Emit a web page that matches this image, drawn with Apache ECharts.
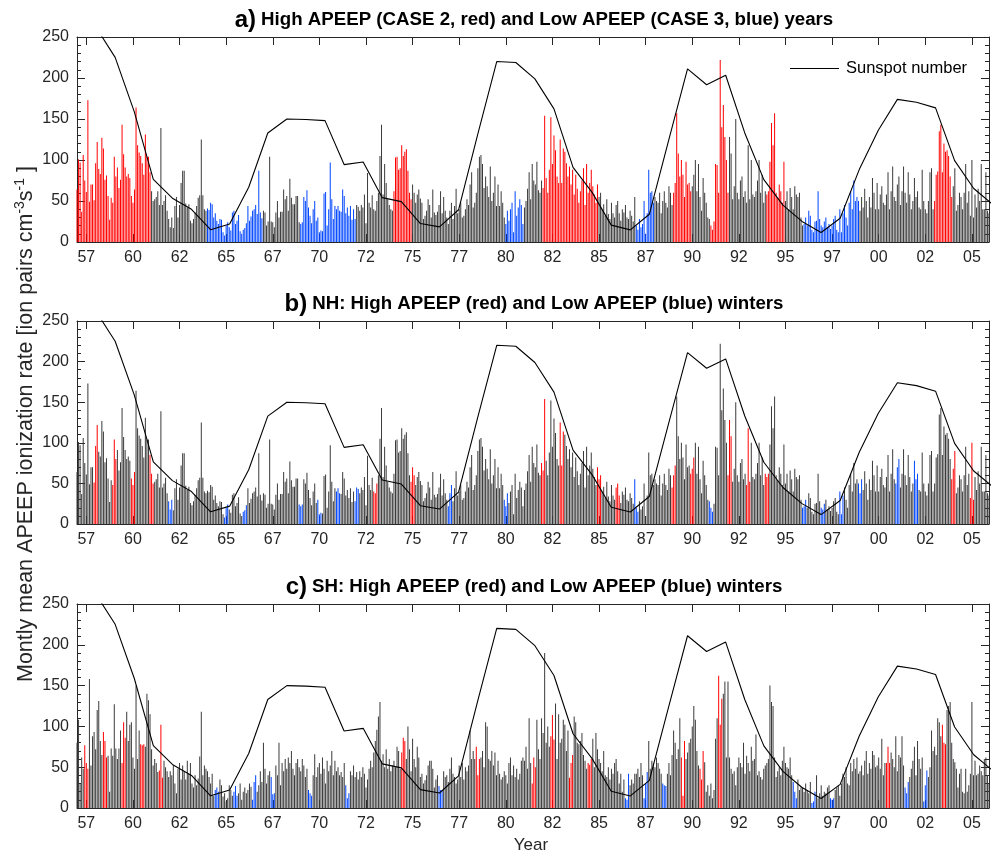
<!DOCTYPE html>
<html>
<head>
<meta charset="utf-8">
<script src="https://cdn.jsdelivr.net/npm/echarts@6/dist/echarts.min.js"></script>
<style>
  html, body { margin: 0; padding: 0; background: #fff; }
  #chart { width: 997px; height: 856px; }
</style>
</head>
<body>
<div id="chart"></div>
<script>
// ---------------------------------------------------------------------------
// Data
// ---------------------------------------------------------------------------

// Yearly sunspot number, 1957-2005
const sunspotYears = [1957, 1958, 1959, 1960, 1961, 1962, 1963, 1964, 1965, 1966,
  1967, 1968, 1969, 1970, 1971, 1972, 1973, 1974, 1975, 1976, 1977, 1978, 1979,
  1980, 1981, 1982, 1983, 1984, 1985, 1986, 1987, 1988, 1989, 1990, 1991, 1992,
  1993, 1994, 1995, 1996, 1997, 1998, 1999, 2000, 2001, 2002, 2003, 2004, 2005];
const sunspotNumber = [269.3, 261.7, 225.1, 159.0, 76.4, 53.4, 39.9, 15.0, 22.0, 66.8,
  132.9, 150.0, 149.4, 148.0, 94.4, 97.6, 54.1, 49.2, 22.5, 18.4, 39.3, 131.0, 220.1,
  218.9, 198.9, 162.4, 91.0, 60.5, 20.6, 14.8, 33.9, 123.0, 211.1, 191.8, 203.3, 133.0,
  76.1, 44.9, 25.1, 11.6, 28.9, 88.3, 136.3, 173.9, 170.4, 163.6, 99.3, 65.3, 45.8];

// Monthly mean APEEP ionization rate (Jan..Dec), one row per year from 1957
const rateNH = [
  [64, 101, 97, 37, 106, 75, 61, 173, 49, 70, 70, 51],      // 1957
  [96, 122, 89, 83, 127, 114, 76, 81, 56, 27, 54, 48],      // 1958
  [104, 80, 91, 66, 76, 143, 107, 91, 80, 83, 78, 56],      // 1959
  [48, 64, 164, 118, 109, 105, 96, 82, 131, 104, 104, 85],  // 1960
  [62, 50, 52, 55, 62, 45, 139, 45, 50, 57, 38, 28],        // 1961
  [18, 30, 17, 44, 55, 30, 45, 72, 87, 87, 47, 42],         // 1962
  [46, 26, 23, 28, 36, 44, 54, 57, 125, 57, 40, 38],        // 1963
  [41, 39, 48, 46, 30, 35, 26, 22, 28, 27, 12, 8],          // 1964
  [20, 24, 18, 14, 36, 38, 22, 26, 33, 13, 10, 15],         // 1965
  [17, 23, 44, 26, 31, 38, 40, 45, 34, 87, 36, 29],         // 1966
  [38, 36, 20, 25, 104, 25, 24, 18, 36, 50, 30, 37],        // 1967
  [37, 64, 52, 56, 38, 77, 54, 46, 46, 56, 56, 24],         // 1968
  [22, 24, 55, 50, 63, 42, 32, 23, 40, 50, 26, 30],         // 1969
  [12, 14, 13, 59, 61, 20, 40, 97, 52, 28, 44, 40],         // 1970
  [44, 38, 37, 64, 56, 35, 42, 32, 44, 27, 40, 28],         // 1971
  [45, 43, 38, 45, 42, 58, 23, 84, 48, 42, 57, 40],         // 1972
  [38, 50, 60, 105, 143, 58, 95, 72, 52, 45, 40, 38],       // 1973
  [62, 103, 104, 88, 90, 118, 105, 110, 113, 87, 60, 52],   // 1974
  [70, 60, 48, 58, 64, 53, 48, 28, 32, 38, 52, 45],         // 1975
  [30, 64, 36, 33, 37, 45, 62, 35, 55, 38, 30, 22],         // 1976
  [38, 48, 28, 44, 65, 35, 40, 48, 30, 32, 40, 52],         // 1977
  [45, 70, 85, 42, 48, 60, 90, 104, 106, 95, 66, 80],       // 1978
  [68, 55, 92, 50, 60, 80, 44, 70, 44, 62, 48, 30],         // 1979
  [22, 38, 26, 40, 48, 12, 62, 32, 42, 52, 45, 22],         // 1980
  [42, 50, 65, 85, 52, 95, 75, 70, 98, 63, 60, 75],         // 1981
  [66, 154, 78, 60, 88, 152, 95, 130, 112, 80, 72, 125],    // 1982
  [72, 114, 110, 96, 80, 92, 70, 88, 58, 82, 65, 48],       // 1983
  [62, 75, 90, 45, 95, 60, 72, 88, 68, 58, 48, 70],         // 1984
  [55, 60, 40, 46, 32, 52, 34, 28, 48, 35, 30, 45],         // 1985
  [50, 35, 26, 40, 36, 45, 30, 28, 38, 32, 25, 55],         // 1986
  [20, 15, 28, 18, 22, 50, 10, 35, 88, 60, 62, 48],         // 1987
  [55, 50, 48, 60, 35, 50, 62, 48, 42, 68, 60, 45],         // 1988
  [60, 72, 157, 108, 80, 100, 82, 55, 98, 70, 72, 62],      // 1989
  [68, 82, 100, 62, 95, 55, 38, 78, 60, 48, 30, 28],        // 1990
  [20, 15, 25, 95, 94, 60, 222, 140, 167, 128, 100, 60],    // 1991
  [128, 108, 52, 68, 150, 60, 52, 75, 80, 55, 62, 48],      // 1992
  [118, 52, 100, 58, 55, 62, 75, 100, 60, 82, 48, 62],      // 1993
  [58, 62, 98, 145, 118, 157, 60, 54, 70, 62, 48, 98],      // 1994
  [50, 62, 40, 66, 55, 40, 68, 58, 55, 60, 30, 20],         // 1995
  [22, 30, 20, 38, 32, 15, 12, 25, 26, 62, 28, 20],         // 1996
  [18, 25, 30, 18, 22, 16, 20, 28, 32, 15, 12, 40],         // 1997
  [12, 35, 45, 30, 20, 48, 62, 40, 75, 50, 55, 50],         // 1998
  [38, 55, 42, 65, 50, 30, 55, 42, 78, 60, 40, 72],         // 1999
  [40, 58, 68, 48, 45, 58, 85, 40, 62, 92, 55, 50],         // 2000
  [70, 80, 45, 62, 92, 60, 48, 85, 58, 40, 50, 78],         // 2001
  [55, 62, 42, 40, 88, 50, 40, 35, 50, 85, 90, 40],         // 2002
  [50, 82, 86, 135, 143, 85, 120, 110, 112, 105, 80, 55],   // 2003
  [68, 90, 38, 45, 60, 55, 40, 60, 95, 48, 62, 32],         // 2004
  [100, 30, 58, 42, 65, 50, 95, 40, 40, 85, 38, 35]         // 2005
];

const rateSH = [
  [80, 108, 30, 62, 48, 77, 55, 48, 158, 52, 88, 93],       // 1957
  [72, 120, 131, 82, 65, 93, 82, 62, 64, 20, 73, 64],       // 1958
  [127, 73, 60, 73, 95, 55, 105, 86, 118, 82, 102, 105],    // 1959
  [62, 48, 150, 60, 95, 78, 77, 78, 75, 140, 132, 115],     // 1960
  [72, 52, 60, 55, 44, 46, 102, 37, 58, 50, 45, 38],        // 1961
  [45, 40, 52, 30, 18, 48, 55, 35, 52, 45, 35, 58],         // 1962
  [42, 55, 30, 25, 40, 28, 36, 63, 118, 40, 52, 48],        // 1963
  [45, 38, 30, 42, 15, 22, 25, 20, 35, 28, 14, 18],         // 1964
  [8, 12, 28, 22, 15, 20, 27, 15, 18, 30, 10, 20],          // 1965
  [25, 18, 22, 30, 26, 10, 32, 40, 20, 28, 45, 32],         // 1966
  [80, 48, 30, 40, 45, 38, 17, 18, 52, 40, 80, 28],         // 1967
  [55, 45, 60, 48, 62, 55, 70, 48, 40, 55, 60, 50],         // 1968
  [45, 60, 52, 38, 48, 22, 18, 15, 40, 66, 38, 50],         // 1969
  [55, 42, 62, 48, 30, 58, 45, 52, 70, 40, 58, 45],         // 1970
  [50, 40, 44, 38, 55, 28, 12, 18, 45, 40, 52, 38],         // 1971
  [44, 35, 45, 38, 50, 42, 25, 35, 48, 58, 50, 68],         // 1972
  [82, 96, 112, 130, 58, 66, 50, 72, 48, 60, 45, 52],       // 1973
  [58, 50, 75, 70, 48, 68, 86, 82, 60, 100, 72, 45],        // 1974
  [85, 60, 50, 75, 62, 38, 42, 30, 34, 40, 52, 58],         // 1975
  [58, 48, 25, 35, 40, 27, 22, 22, 45, 38, 40, 32],         // 1976
  [48, 62, 42, 38, 30, 35, 52, 38, 55, 35, 50, 45],         // 1977
  [52, 95, 60, 70, 60, 75, 40, 60, 62, 70, 50, 105],        // 1978
  [100, 60, 58, 70, 52, 68, 40, 58, 42, 35, 38, 45],        // 1979
  [40, 30, 55, 62, 40, 52, 38, 48, 35, 42, 58, 62],         // 1980
  [58, 75, 48, 110, 55, 30, 62, 50, 108, 72, 60, 110],      // 1981
  [92, 190, 80, 100, 75, 88, 114, 84, 128, 60, 115, 80],    // 1982
  [85, 108, 102, 70, 95, 37, 55, 65, 112, 105, 80, 78],     // 1983
  [82, 92, 65, 58, 48, 55, 53, 60, 85, 50, 92, 72],         // 1984
  [60, 55, 45, 70, 40, 38, 50, 35, 48, 42, 55, 60],         // 1985
  [45, 30, 42, 20, 35, 12, 10, 42, 28, 35, 30, 42],         // 1986
  [42, 48, 38, 55, 40, 12, 30, 44, 82, 48, 58, 55],         // 1987
  [50, 62, 55, 48, 42, 30, 28, 27, 42, 55, 40, 65],         // 1988
  [95, 80, 60, 72, 110, 62, 15, 82, 60, 68, 80, 85],        // 1989
  [100, 125, 108, 70, 52, 48, 35, 70, 56, 20, 28, 15],      // 1990
  [30, 12, 22, 85, 110, 162, 102, 134, 140, 155, 62, 155],  // 1991
  [62, 48, 42, 45, 28, 50, 62, 55, 50, 80, 42, 64],         // 1992
  [55, 45, 75, 58, 60, 90, 40, 45, 38, 35, 48, 52],         // 1993
  [55, 60, 150, 130, 125, 62, 38, 45, 50, 40, 58, 75],      // 1994
  [55, 50, 48, 62, 40, 32, 20, 12, 35, 22, 25, 25],         // 1995
  [20, 30, 22, 18, 32, 6, 8, 20, 40, 12, 18, 28],           // 1996
  [15, 20, 18, 25, 28, 12, 10, 12, 22, 25, 28, 15],         // 1997
  [30, 42, 38, 50, 30, 28, 55, 45, 60, 48, 62, 42],         // 1998
  [45, 52, 40, 58, 70, 42, 55, 48, 70, 65, 50, 52],         // 1999
  [62, 48, 85, 40, 55, 55, 75, 55, 68, 60, 50, 88],         // 2000
  [45, 65, 62, 88, 52, 25, 18, 32, 38, 48, 58, 75],         // 2001
  [40, 82, 60, 48, 62, 8, 28, 46, 38, 50, 95, 70],          // 2002
  [75, 65, 110, 105, 88, 102, 80, 78, 120, 125, 130, 80],   // 2003
  [60, 56, 48, 25, 42, 48, 20, 18, 48, 20, 28, 42],         // 2004
  [130, 40, 58, 40, 42, 52, 45, 40, 60, 62, 40, 30]         // 2005
];

// High / low APEEP selections
const highYears = [1957, 1958, 1959, 1960, 1974, 1982, 1983, 1984, 1989, 1991, 1994, 2003];
const lowYears = [1964, 1965, 1966, 1969, 1970, 1971, 1980, 1987, 1996, 1997, 1998];
// NH winters, labelled by the year of their December (Dec, Jan, Feb)
const highWintersNH = [1957, 1958, 1959, 1960, 1972, 1974, 1981, 1982, 1984, 1985, 1988,
  1989, 1991, 1992, 1993, 2003, 2004];
const lowWintersNH = [1961, 1964, 1965, 1968, 1969, 1970, 1971, 1976, 1979, 1986, 1990,
  1995, 1996, 1997, 1998, 2000, 2001];
// SH winters (Jun, Jul, Aug)
const highWintersSH = [1957, 1958, 1959, 1960, 1961, 1974, 1978, 1981, 1982, 1983, 1984,
  1989, 1990, 1991, 2000, 2003];
const lowWintersSH = [1964, 1965, 1966, 1967, 1969, 1971, 1976, 1986, 1987, 1988, 1995,
  1996, 1997, 2001, 2002];

// Tick labels along the month axis (one every 30 months from July 1957)
const xTickLabels = ['57', '60', '62', '65', '67', '70', '72', '75', '77', '80',
  '82', '85', '87', '90', '92', '95', '97', '00', '02', '05'];

// ---------------------------------------------------------------------------
// Helpers
// ---------------------------------------------------------------------------
const FIRST_YEAR = 1957;
const N_MONTHS = rateNH.length * 12;          // months 1..588
const TICK_START = 7, TICK_STEP = 30;
const tickMonths = xTickLabels.map((_, i) => TICK_START + i * TICK_STEP);
// The yearly sunspot curve is spread over the monthly axis
const SUN_STEP = 12.28;

const RED = '#ff0000', BLUE = '#0046ff', BAR = '#3a3a3a';
const FONT = '"Liberation Sans", Arial, Helvetica, sans-serif';
const AXIS_COLOR = '#262626';

function monthInfo(m) {
  const k = m - 1;
  return { year: FIRST_YEAR + Math.floor(k / 12), mon: k % 12 };
}
function colorYears(m) {
  const { year } = monthInfo(m);
  if (highYears.includes(year)) return RED;
  if (lowYears.includes(year)) return BLUE;
  return BAR;
}
function colorNH(m) {
  const { year, mon } = monthInfo(m);
  let w = null;
  if (mon === 11) w = year; else if (mon <= 1) w = year - 1;
  if (w !== null) {
    if (highWintersNH.includes(w)) return RED;
    if (lowWintersNH.includes(w)) return BLUE;
  }
  return BAR;
}
function colorSH(m) {
  const { year, mon } = monthInfo(m);
  if (mon >= 5 && mon <= 7) {
    if (highWintersSH.includes(year)) return RED;
    if (lowWintersSH.includes(year)) return BLUE;
  }
  return BAR;
}
function monthlySeries(rows, colorFn) {
  const out = [];
  rows.forEach((row, y) => row.forEach((v, mo) => {
    const m = y * 12 + mo + 1;
    out.push({ value: [m, v], itemStyle: { color: colorFn(m) } });
  }));
  return out;
}
const sunspotData = sunspotNumber.map((v, i) => [1 + i * SUN_STEP, v]);

// ---------------------------------------------------------------------------
// Layout
// ---------------------------------------------------------------------------
const panels = [
  { top: 37, height: 205, rows: rateNH, color: colorYears,
    tag: 'a)', title: 'High APEEP (CASE 2, red) and Low APEEP (CASE 3, blue) years', titleTop: 3 },
  { top: 321, height: 203, rows: rateNH, color: colorNH,
    tag: 'b)', title: 'NH: High APEEP (red) and Low APEEP (blue) winters', titleTop: 287 },
  { top: 604, height: 204, rows: rateSH, color: colorSH,
    tag: 'c)', title: 'SH: High APEEP (red) and Low APEEP (blue) winters', titleTop: 570 }
];
const GRID_LEFT = 77, GRID_RIGHT = 8;

const option = {
  animation: false,
  backgroundColor: '#fff',
  textStyle: { fontFamily: FONT },
  title: [],
  grid: [],
  xAxis: [],
  yAxis: [],
  series: [],
  legend: {
    left: 790, top: 60, padding: 0,
    data: [{ name: 'Sunspot number', icon: 'rect' }],
    itemWidth: 49, itemHeight: 1.2,
    textStyle: { fontSize: 16.5, color: '#000', fontFamily: FONT, padding: [0, 0, 0, 2] },
    selectedMode: false
  },
  graphic: [
    {
      type: 'text', x: 26, y: 424, rotation: Math.PI / 2,
      style: {
        text: '{n|Montly mean APEEP ionization rate [ion pairs cm}{s|-3}{n|s}{s|-1}{n| ]}',
        align: 'center', verticalAlign: 'middle',
        rich: {
          n: { fontSize: 21.5, fontFamily: FONT, fill: '#262626', lineHeight: 26 },
          s: { fontSize: 14, fontFamily: FONT, fill: '#262626', lineHeight: 26, verticalAlign: 'top', padding: [0, 0, 8, 0] }
        }
      }
    },
    {
      type: 'text', x: 531, y: 845,
      style: { text: 'Year', fontSize: 17, fontFamily: FONT, fill: '#262626', align: 'center', verticalAlign: 'middle' }
    }
  ]
};

panels.forEach((p, i) => {
  option.grid.push({ left: GRID_LEFT, right: GRID_RIGHT, top: p.top, height: p.height, show: false });
  option.title.push({
    text: '{t|' + p.tag + '} {s|' + p.title + '}',
    left: GRID_LEFT + (997 - GRID_LEFT - GRID_RIGHT) / 2 - 4, top: p.titleTop, textAlign: 'center',
    textStyle: {
      rich: {
        t: { fontSize: 24, fontWeight: 'bold', fontFamily: FONT, color: '#000' },
        s: { fontSize: 18.7, fontWeight: 'bold', fontFamily: FONT, color: '#000' }
      }
    }
  });
  const xBase = {
    type: 'value', gridIndex: i, min: 1, max: N_MONTHS,
    axisLine: { show: true, onZero: false, lineStyle: { color: AXIS_COLOR, width: 1 } },
    axisTick: { show: true, inside: true, length: 8, customValues: tickMonths, lineStyle: { color: AXIS_COLOR } },
    splitLine: { show: false }
  };
  option.xAxis.push(Object.assign({}, xBase, {
    position: 'bottom',
    axisLabel: {
      show: true, customValues: tickMonths, margin: 8, fontSize: 16, color: AXIS_COLOR, fontFamily: FONT,
      formatter: v => xTickLabels[tickMonths.indexOf(Math.round(v))] || ''
    }
  }));
  option.xAxis.push(Object.assign({}, xBase, { position: 'top', axisLabel: { show: false } }));
  const yBase = {
    type: 'value', gridIndex: i, min: 0, max: 250, interval: 50,
    axisLine: { show: true, onZero: false, lineStyle: { color: AXIS_COLOR, width: 1 } },
    axisTick: { show: true, inside: true, length: 8, lineStyle: { color: AXIS_COLOR } },
    minorTick: { show: true, splitNumber: 5, length: 4, lineStyle: { color: AXIS_COLOR } },
    splitLine: { show: false }, minorSplitLine: { show: false }
  };
  option.yAxis.push(Object.assign({}, yBase, {
    position: 'left',
    axisLabel: { show: true, margin: 8, fontSize: 16, color: AXIS_COLOR, fontFamily: FONT }
  }));
  option.yAxis.push(Object.assign({}, yBase, { position: 'right', axisLabel: { show: false } }));

  option.series.push({
    type: 'bar', name: 'rate' + i,
    xAxisIndex: i * 2, yAxisIndex: i * 2,
    barWidth: 1, clip: true,
    data: monthlySeries(p.rows, p.color)
  });
  option.series.push({
    type: 'line', name: 'Sunspot number',
    xAxisIndex: i * 2, yAxisIndex: i * 2,
    data: sunspotData, symbol: 'none', clip: true, z: 5,
    itemStyle: { color: '#000' },
    lineStyle: { color: '#000', width: 1.1 }
  });
});

const chart = echarts.init(document.getElementById('chart'), null, { renderer: 'canvas' });
chart.setOption(option);
</script>
</body>
</html>
